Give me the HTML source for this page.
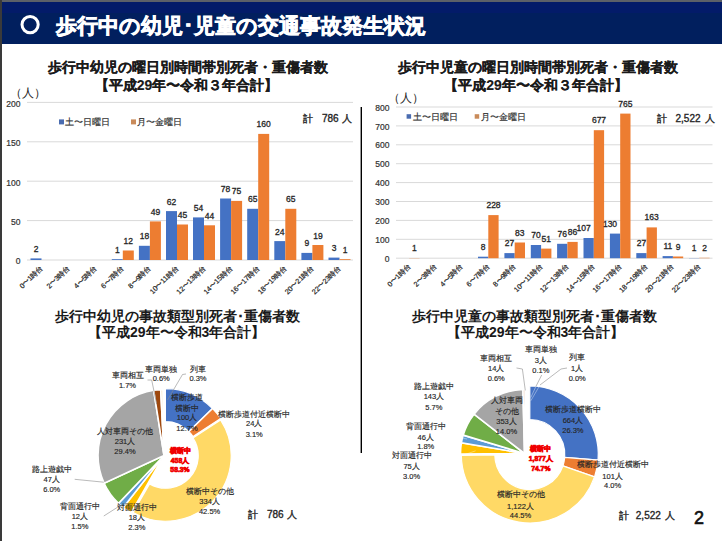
<!DOCTYPE html>
<html lang="ja"><head><meta charset="utf-8"><title>slide</title>
<style>
html,body{margin:0;padding:0;background:#fff;}
body{width:722px;height:541px;overflow:hidden;position:relative;font-family:"Liberation Sans",sans-serif;}
svg{position:absolute;left:0;top:0;font-family:"Liberation Sans",sans-serif;}
</style></head><body>
<svg width="722" height="541" viewBox="0 0 722 541">
<rect x="0" y="0" width="722" height="541" fill="#fff"/>
<rect x="0" y="0" width="722" height="2" fill="#5c6068"/>
<rect x="0" y="2" width="722" height="42" fill="#011f5e"/>
<rect x="0" y="2" width="722" height="11" fill="#031b69"/>
<circle cx="30.1" cy="24.6" r="8.1" fill="none" stroke="#fff" stroke-width="3"/>
<text x="55.5" y="32.5" font-size="21" font-weight="bold" fill="#fff" stroke="#fff" stroke-width="0.7">歩行中の幼児･児童の交通事故発生状況</text>
<line x1="27" y1="260.0" x2="353" y2="260.0" stroke="#d9d9d9" stroke-width="1"/>
<text x="20.5" y="264.3" font-size="8.5" text-anchor="end" font-weight="normal" fill="#333" stroke="#333" stroke-width="0.2">0</text>
<line x1="27" y1="220.6" x2="353" y2="220.6" stroke="#d9d9d9" stroke-width="1"/>
<text x="20.5" y="224.9" font-size="8.5" text-anchor="end" font-weight="normal" fill="#333" stroke="#333" stroke-width="0.2">50</text>
<line x1="27" y1="181.2" x2="353" y2="181.2" stroke="#d9d9d9" stroke-width="1"/>
<text x="20.5" y="185.5" font-size="8.5" text-anchor="end" font-weight="normal" fill="#333" stroke="#333" stroke-width="0.2">100</text>
<line x1="27" y1="141.8" x2="353" y2="141.8" stroke="#d9d9d9" stroke-width="1"/>
<text x="20.5" y="146.1" font-size="8.5" text-anchor="end" font-weight="normal" fill="#333" stroke="#333" stroke-width="0.2">150</text>
<line x1="27" y1="102.4" x2="353" y2="102.4" stroke="#d9d9d9" stroke-width="1"/>
<text x="20.5" y="106.7" font-size="8.5" text-anchor="end" font-weight="normal" fill="#333" stroke="#333" stroke-width="0.2">200</text>
<rect x="30.5" y="258.4" width="11.0" height="1.6" fill="#4472c4"/>
<text x="36.0" y="251.9" font-size="8.5" text-anchor="middle" font-weight="normal" fill="#262626" stroke="#262626" stroke-width="0.3">2</text>
<text transform="translate(43.0,268.6) rotate(-45)" font-size="7.2" text-anchor="end" fill="#262626" stroke="#262626" stroke-width="0.2">0〜1時台</text>
<text transform="translate(70.1,268.6) rotate(-45)" font-size="7.2" text-anchor="end" fill="#262626" stroke="#262626" stroke-width="0.2">2〜3時台</text>
<text transform="translate(97.2,268.6) rotate(-45)" font-size="7.2" text-anchor="end" fill="#262626" stroke="#262626" stroke-width="0.2">4〜5時台</text>
<rect x="111.8" y="259.2" width="11.0" height="0.8" fill="#4472c4"/>
<text x="117.3" y="252.7" font-size="8.5" text-anchor="middle" font-weight="normal" fill="#262626" stroke="#262626" stroke-width="0.3">1</text>
<rect x="122.8" y="250.5" width="11.0" height="9.5" fill="#ed7d31"/>
<text x="128.3" y="244.0" font-size="8.5" text-anchor="middle" font-weight="normal" fill="#262626" stroke="#262626" stroke-width="0.3">12</text>
<text transform="translate(124.3,268.6) rotate(-45)" font-size="7.2" text-anchor="end" fill="#262626" stroke="#262626" stroke-width="0.2">6〜7時台</text>
<rect x="138.9" y="245.8" width="11.0" height="14.2" fill="#4472c4"/>
<text x="144.4" y="239.3" font-size="8.5" text-anchor="middle" font-weight="normal" fill="#262626" stroke="#262626" stroke-width="0.3">18</text>
<rect x="149.9" y="221.4" width="11.0" height="38.6" fill="#ed7d31"/>
<text x="155.4" y="214.9" font-size="8.5" text-anchor="middle" font-weight="normal" fill="#262626" stroke="#262626" stroke-width="0.3">49</text>
<text transform="translate(151.4,268.6) rotate(-45)" font-size="7.2" text-anchor="end" fill="#262626" stroke="#262626" stroke-width="0.2">8〜9時台</text>
<rect x="166.0" y="211.1" width="11.0" height="48.9" fill="#4472c4"/>
<text x="171.5" y="204.6" font-size="8.5" text-anchor="middle" font-weight="normal" fill="#262626" stroke="#262626" stroke-width="0.3">62</text>
<rect x="177.0" y="224.5" width="11.0" height="35.5" fill="#ed7d31"/>
<text x="182.5" y="218.0" font-size="8.5" text-anchor="middle" font-weight="normal" fill="#262626" stroke="#262626" stroke-width="0.3">45</text>
<text transform="translate(178.5,268.6) rotate(-45)" font-size="7.2" text-anchor="end" fill="#262626" stroke="#262626" stroke-width="0.2">10〜11時台</text>
<rect x="193.0" y="217.4" width="11.0" height="42.6" fill="#4472c4"/>
<text x="198.5" y="210.9" font-size="8.5" text-anchor="middle" font-weight="normal" fill="#262626" stroke="#262626" stroke-width="0.3">54</text>
<rect x="204.0" y="225.3" width="11.0" height="34.7" fill="#ed7d31"/>
<text x="209.5" y="218.8" font-size="8.5" text-anchor="middle" font-weight="normal" fill="#262626" stroke="#262626" stroke-width="0.3">44</text>
<text transform="translate(205.5,268.6) rotate(-45)" font-size="7.2" text-anchor="end" fill="#262626" stroke="#262626" stroke-width="0.2">12〜13時台</text>
<rect x="220.1" y="198.5" width="11.0" height="61.5" fill="#4472c4"/>
<text x="225.6" y="192.0" font-size="8.5" text-anchor="middle" font-weight="normal" fill="#262626" stroke="#262626" stroke-width="0.3">78</text>
<rect x="231.1" y="200.9" width="11.0" height="59.1" fill="#ed7d31"/>
<text x="236.6" y="194.4" font-size="8.5" text-anchor="middle" font-weight="normal" fill="#262626" stroke="#262626" stroke-width="0.3">75</text>
<text transform="translate(232.6,268.6) rotate(-45)" font-size="7.2" text-anchor="end" fill="#262626" stroke="#262626" stroke-width="0.2">14〜15時台</text>
<rect x="247.2" y="208.8" width="11.0" height="51.2" fill="#4472c4"/>
<text x="252.7" y="202.3" font-size="8.5" text-anchor="middle" font-weight="normal" fill="#262626" stroke="#262626" stroke-width="0.3">65</text>
<rect x="258.2" y="133.9" width="11.0" height="126.1" fill="#ed7d31"/>
<text x="263.7" y="127.4" font-size="8.5" text-anchor="middle" font-weight="normal" fill="#262626" stroke="#262626" stroke-width="0.3">160</text>
<text transform="translate(259.7,268.6) rotate(-45)" font-size="7.2" text-anchor="end" fill="#262626" stroke="#262626" stroke-width="0.2">16〜17時台</text>
<rect x="274.3" y="241.1" width="11.0" height="18.9" fill="#4472c4"/>
<text x="279.8" y="234.6" font-size="8.5" text-anchor="middle" font-weight="normal" fill="#262626" stroke="#262626" stroke-width="0.3">24</text>
<rect x="285.3" y="208.8" width="11.0" height="51.2" fill="#ed7d31"/>
<text x="290.8" y="202.3" font-size="8.5" text-anchor="middle" font-weight="normal" fill="#262626" stroke="#262626" stroke-width="0.3">65</text>
<text transform="translate(286.8,268.6) rotate(-45)" font-size="7.2" text-anchor="end" fill="#262626" stroke="#262626" stroke-width="0.2">18〜19時台</text>
<rect x="301.4" y="252.9" width="11.0" height="7.1" fill="#4472c4"/>
<text x="306.9" y="246.4" font-size="8.5" text-anchor="middle" font-weight="normal" fill="#262626" stroke="#262626" stroke-width="0.3">9</text>
<rect x="312.4" y="245.0" width="11.0" height="15.0" fill="#ed7d31"/>
<text x="317.9" y="238.5" font-size="8.5" text-anchor="middle" font-weight="normal" fill="#262626" stroke="#262626" stroke-width="0.3">19</text>
<text transform="translate(313.9,268.6) rotate(-45)" font-size="7.2" text-anchor="end" fill="#262626" stroke="#262626" stroke-width="0.2">20〜21時台</text>
<rect x="328.5" y="257.6" width="11.0" height="2.4" fill="#4472c4"/>
<text x="334.0" y="251.1" font-size="8.5" text-anchor="middle" font-weight="normal" fill="#262626" stroke="#262626" stroke-width="0.3">3</text>
<rect x="339.5" y="259.2" width="11.0" height="0.8" fill="#ed7d31"/>
<text x="345.0" y="252.7" font-size="8.5" text-anchor="middle" font-weight="normal" fill="#262626" stroke="#262626" stroke-width="0.3">1</text>
<text transform="translate(341.0,268.6) rotate(-45)" font-size="7.2" text-anchor="end" fill="#262626" stroke="#262626" stroke-width="0.2">22〜23時台</text>
<line x1="396" y1="258.2" x2="712.5" y2="258.2" stroke="#d9d9d9" stroke-width="1"/>
<text x="389.5" y="261.8" font-size="8.5" text-anchor="end" font-weight="normal" fill="#333" stroke="#333" stroke-width="0.2">0</text>
<line x1="396" y1="239.3" x2="712.5" y2="239.3" stroke="#d9d9d9" stroke-width="1"/>
<text x="389.5" y="242.9" font-size="8.5" text-anchor="end" font-weight="normal" fill="#333" stroke="#333" stroke-width="0.2">100</text>
<line x1="396" y1="220.4" x2="712.5" y2="220.4" stroke="#d9d9d9" stroke-width="1"/>
<text x="389.5" y="224.0" font-size="8.5" text-anchor="end" font-weight="normal" fill="#333" stroke="#333" stroke-width="0.2">200</text>
<line x1="396" y1="201.5" x2="712.5" y2="201.5" stroke="#d9d9d9" stroke-width="1"/>
<text x="389.5" y="205.1" font-size="8.5" text-anchor="end" font-weight="normal" fill="#333" stroke="#333" stroke-width="0.2">300</text>
<line x1="396" y1="182.6" x2="712.5" y2="182.6" stroke="#d9d9d9" stroke-width="1"/>
<text x="389.5" y="186.2" font-size="8.5" text-anchor="end" font-weight="normal" fill="#333" stroke="#333" stroke-width="0.2">400</text>
<line x1="396" y1="163.7" x2="712.5" y2="163.7" stroke="#d9d9d9" stroke-width="1"/>
<text x="389.5" y="167.3" font-size="8.5" text-anchor="end" font-weight="normal" fill="#333" stroke="#333" stroke-width="0.2">500</text>
<line x1="396" y1="144.8" x2="712.5" y2="144.8" stroke="#d9d9d9" stroke-width="1"/>
<text x="389.5" y="148.4" font-size="8.5" text-anchor="end" font-weight="normal" fill="#333" stroke="#333" stroke-width="0.2">600</text>
<line x1="396" y1="125.9" x2="712.5" y2="125.9" stroke="#d9d9d9" stroke-width="1"/>
<text x="389.5" y="129.5" font-size="8.5" text-anchor="end" font-weight="normal" fill="#333" stroke="#333" stroke-width="0.2">700</text>
<line x1="396" y1="107.0" x2="712.5" y2="107.0" stroke="#d9d9d9" stroke-width="1"/>
<text x="389.5" y="110.6" font-size="8.5" text-anchor="end" font-weight="normal" fill="#333" stroke="#333" stroke-width="0.2">800</text>
<rect x="409.2" y="258.0" width="10.3" height="0.2" fill="#ed7d31"/>
<text x="414.3" y="251.0" font-size="8.5" text-anchor="middle" font-weight="normal" fill="#262626" stroke="#262626" stroke-width="0.3">1</text>
<text transform="translate(410.7,266.8) rotate(-45)" font-size="7.2" text-anchor="end" fill="#262626" stroke="#262626" stroke-width="0.2">0〜1時台</text>
<text transform="translate(437.1,266.8) rotate(-45)" font-size="7.2" text-anchor="end" fill="#262626" stroke="#262626" stroke-width="0.2">2〜3時台</text>
<text transform="translate(463.4,266.8) rotate(-45)" font-size="7.2" text-anchor="end" fill="#262626" stroke="#262626" stroke-width="0.2">4〜5時台</text>
<rect x="478.0" y="256.7" width="10.3" height="1.5" fill="#4472c4"/>
<text x="483.2" y="249.7" font-size="8.5" text-anchor="middle" font-weight="normal" fill="#262626" stroke="#262626" stroke-width="0.3">8</text>
<rect x="488.3" y="215.1" width="10.3" height="43.1" fill="#ed7d31"/>
<text x="493.5" y="208.1" font-size="8.5" text-anchor="middle" font-weight="normal" fill="#262626" stroke="#262626" stroke-width="0.3">228</text>
<text transform="translate(489.8,266.8) rotate(-45)" font-size="7.2" text-anchor="end" fill="#262626" stroke="#262626" stroke-width="0.2">6〜7時台</text>
<rect x="504.4" y="253.1" width="10.3" height="5.1" fill="#4472c4"/>
<text x="509.5" y="246.1" font-size="8.5" text-anchor="middle" font-weight="normal" fill="#262626" stroke="#262626" stroke-width="0.3">27</text>
<rect x="514.7" y="242.5" width="10.3" height="15.7" fill="#ed7d31"/>
<text x="519.8" y="235.5" font-size="8.5" text-anchor="middle" font-weight="normal" fill="#262626" stroke="#262626" stroke-width="0.3">83</text>
<text transform="translate(516.2,266.8) rotate(-45)" font-size="7.2" text-anchor="end" fill="#262626" stroke="#262626" stroke-width="0.2">8〜9時台</text>
<rect x="530.8" y="245.0" width="10.3" height="13.2" fill="#4472c4"/>
<text x="535.9" y="238.0" font-size="8.5" text-anchor="middle" font-weight="normal" fill="#262626" stroke="#262626" stroke-width="0.3">70</text>
<rect x="541.1" y="248.6" width="10.3" height="9.6" fill="#ed7d31"/>
<text x="546.2" y="241.6" font-size="8.5" text-anchor="middle" font-weight="normal" fill="#262626" stroke="#262626" stroke-width="0.3">51</text>
<text transform="translate(542.6,266.8) rotate(-45)" font-size="7.2" text-anchor="end" fill="#262626" stroke="#262626" stroke-width="0.2">10〜11時台</text>
<rect x="557.1" y="243.8" width="10.3" height="14.4" fill="#4472c4"/>
<text x="562.3" y="236.8" font-size="8.5" text-anchor="middle" font-weight="normal" fill="#262626" stroke="#262626" stroke-width="0.3">76</text>
<rect x="567.4" y="241.9" width="10.3" height="16.3" fill="#ed7d31"/>
<text x="572.6" y="234.9" font-size="8.5" text-anchor="middle" font-weight="normal" fill="#262626" stroke="#262626" stroke-width="0.3">86</text>
<text transform="translate(568.9,266.8) rotate(-45)" font-size="7.2" text-anchor="end" fill="#262626" stroke="#262626" stroke-width="0.2">12〜13時台</text>
<rect x="583.5" y="238.0" width="10.3" height="20.2" fill="#4472c4"/>
<text x="583.7" y="231.0" font-size="8.5" text-anchor="middle" font-weight="normal" fill="#262626" stroke="#262626" stroke-width="0.3">107</text>
<rect x="593.8" y="130.2" width="10.3" height="128.0" fill="#ed7d31"/>
<text x="599.0" y="123.2" font-size="8.5" text-anchor="middle" font-weight="normal" fill="#262626" stroke="#262626" stroke-width="0.3">677</text>
<text transform="translate(595.3,266.8) rotate(-45)" font-size="7.2" text-anchor="end" fill="#262626" stroke="#262626" stroke-width="0.2">14〜15時台</text>
<rect x="609.9" y="233.6" width="10.3" height="24.6" fill="#4472c4"/>
<text x="610.0" y="226.6" font-size="8.5" text-anchor="middle" font-weight="normal" fill="#262626" stroke="#262626" stroke-width="0.3">130</text>
<rect x="620.2" y="113.6" width="10.3" height="144.6" fill="#ed7d31"/>
<text x="625.3" y="106.6" font-size="8.5" text-anchor="middle" font-weight="normal" fill="#262626" stroke="#262626" stroke-width="0.3">765</text>
<text transform="translate(621.7,266.8) rotate(-45)" font-size="7.2" text-anchor="end" fill="#262626" stroke="#262626" stroke-width="0.2">16〜17時台</text>
<rect x="636.3" y="253.1" width="10.3" height="5.1" fill="#4472c4"/>
<text x="641.4" y="246.1" font-size="8.5" text-anchor="middle" font-weight="normal" fill="#262626" stroke="#262626" stroke-width="0.3">27</text>
<rect x="646.6" y="227.4" width="10.3" height="30.8" fill="#ed7d31"/>
<text x="651.7" y="220.4" font-size="8.5" text-anchor="middle" font-weight="normal" fill="#262626" stroke="#262626" stroke-width="0.3">163</text>
<text transform="translate(648.1,266.8) rotate(-45)" font-size="7.2" text-anchor="end" fill="#262626" stroke="#262626" stroke-width="0.2">18〜19時台</text>
<rect x="662.6" y="256.1" width="10.3" height="2.1" fill="#4472c4"/>
<text x="667.8" y="249.1" font-size="8.5" text-anchor="middle" font-weight="normal" fill="#262626" stroke="#262626" stroke-width="0.3">11</text>
<rect x="672.9" y="256.5" width="10.3" height="1.7" fill="#ed7d31"/>
<text x="678.1" y="249.5" font-size="8.5" text-anchor="middle" font-weight="normal" fill="#262626" stroke="#262626" stroke-width="0.3">9</text>
<text transform="translate(674.4,266.8) rotate(-45)" font-size="7.2" text-anchor="end" fill="#262626" stroke="#262626" stroke-width="0.2">20〜21時台</text>
<rect x="689.0" y="258.0" width="10.3" height="0.2" fill="#4472c4"/>
<text x="694.2" y="251.0" font-size="8.5" text-anchor="middle" font-weight="normal" fill="#262626" stroke="#262626" stroke-width="0.3">1</text>
<rect x="699.3" y="257.8" width="10.3" height="0.4" fill="#ed7d31"/>
<text x="704.5" y="250.8" font-size="8.5" text-anchor="middle" font-weight="normal" fill="#262626" stroke="#262626" stroke-width="0.3">2</text>
<text transform="translate(700.8,266.8) rotate(-45)" font-size="7.2" text-anchor="end" fill="#262626" stroke="#262626" stroke-width="0.2">22〜23時台</text>
<path d="M165.39,421.58 L165.39,388.58 A65.5,65.5 0 0 1 212.28,408.35 L188.66,431.39 A32.5,32.5 0 0 0 165.39,421.58 Z" fill="#4472c4" stroke="#fff" stroke-width="1.2"/>
<path d="M189.05,431.68 L212.67,408.64 A65.5,65.5 0 0 1 220.64,418.59 L193.00,436.62 A32.5,32.5 0 0 0 189.05,431.68 Z" fill="#ed7d31" stroke="#fff" stroke-width="1.2"/>
<path d="M192.95,437.93 L220.58,419.90 A65.5,65.5 0 0 1 133.10,512.48 L149.54,483.87 A32.5,32.5 0 0 0 192.95,437.93 Z" fill="#ffd966" stroke="#fff" stroke-width="1.2"/>
<path d="M164.00,455.50 L131.12,512.73 A66,66 0 0 1 123.22,507.40 Z" fill="#ffc000" stroke="#fff" stroke-width="1.6"/>
<path d="M164.00,455.50 L123.22,507.40 A66,66 0 0 1 118.52,503.33 Z" fill="#5b9bd5" stroke="#fff" stroke-width="1.6"/>
<path d="M164.00,455.50 L118.52,503.33 A66,66 0 0 1 104.11,483.23 Z" fill="#70ad47" stroke="#fff" stroke-width="1.6"/>
<path d="M164.00,455.50 L104.11,483.23 A66,66 0 0 1 153.68,390.31 Z" fill="#a5a5a5" stroke="#fff" stroke-width="1.6"/>
<path d="M164.00,455.50 L153.68,390.31 A66,66 0 0 1 160.68,389.58 Z" fill="#9e480e" stroke="#fff" stroke-width="1.6"/>
<path d="M164.00,455.50 L160.68,389.58 A66,66 0 0 1 163.17,389.51 Z" fill="#f3dfb8" stroke="#fff" stroke-width="1.6"/>
<path d="M164.00,455.50 L163.17,389.51 A66,66 0 0 1 164.41,389.50 Z" fill="#ffffff" stroke="#fff" stroke-width="1.6"/>
<path d="M529.80,419.50 L529.80,386.00 A68.5,68.5 0 0 1 598.07,460.09 L564.68,457.36 A35,35 0 0 0 529.80,419.50 Z" fill="#4472c4" stroke="#fff" stroke-width="1.2"/>
<path d="M564.68,457.36 L598.07,460.09 A68.5,68.5 0 0 1 594.54,476.89 L562.88,465.94 A35,35 0 0 0 564.68,457.36 Z" fill="#ed7d31" stroke="#fff" stroke-width="1.2"/>
<path d="M562.88,465.94 L594.54,476.89 A68.5,68.5 0 0 1 461.31,455.36 L494.80,454.94 A35,35 0 0 0 562.88,465.94 Z" fill="#ffd966" stroke="#fff" stroke-width="1.2"/>
<path d="M524.50,453.50 L460.50,454.17 A64,64 0 0 1 461.40,442.83 Z" fill="#ffc000" stroke="#fff" stroke-width="1.6"/>
<path d="M524.50,453.50 L461.40,442.83 A64,64 0 0 1 463.20,435.11 Z" fill="#5b9bd5" stroke="#fff" stroke-width="1.6"/>
<path d="M524.50,453.50 L463.20,435.11 A64,64 0 0 1 474.00,414.19 Z" fill="#70ad47" stroke="#fff" stroke-width="1.6"/>
<path d="M524.50,453.50 L474.00,414.19 A64,64 0 0 1 522.94,389.52 Z" fill="#a5a5a5" stroke="#fff" stroke-width="1.6"/>
<path d="M524.50,453.50 L522.94,389.52 A64,64 0 0 1 525.17,389.50 Z" fill="#e9c9b5" stroke="#fff" stroke-width="1.6"/>

<g stroke="#8c8c8c" stroke-width="0.6" fill="none">
<polyline points="147.5,380 151.7,380 156.6,404"/>
<polyline points="186,374 182.5,374.5 167.5,400"/>
<polyline points="74.7,479.3 103.8,482.2"/>
<polyline points="103.8,516 119.5,506"/>
<polyline points="516.5,368 522.4,369 525.3,390.4"/>
<polyline points="567,368 561,369 540,385"/>
<polyline points="541.7,375 535.8,386.7"/>
</g><g stroke="#ffffff" stroke-opacity="0.55" stroke-width="0.7" fill="none"><polyline points="535.8,386.7 530.8,397.5"/><polyline points="540,385 530.8,400.8"/>
<polyline points="458.2,396.5 463,396.5 475.6,415"/>
<polyline points="450.4,435.3 467,439"/>
<polyline points="435,465.3 475.6,450.8"/>
</g>
<text x="187.5" y="72.0" font-size="14" text-anchor="middle" font-weight="bold" fill="#1a1a1a" stroke="#1a1a1a" stroke-width="0.15">歩行中幼児の曜日別時間帯別死者・重傷者数</text>
<text x="186.5" y="89.5" font-size="14" text-anchor="middle" font-weight="bold" fill="#1a1a1a" stroke="#1a1a1a" stroke-width="0.15">【平成29年〜令和３年合計】</text>
<text x="537.5" y="72.0" font-size="14" text-anchor="middle" font-weight="bold" fill="#1a1a1a" stroke="#1a1a1a" stroke-width="0.15">歩行中児童の曜日別時間帯別死者・重傷者数</text>
<text x="536.0" y="89.5" font-size="14" text-anchor="middle" font-weight="bold" fill="#1a1a1a" stroke="#1a1a1a" stroke-width="0.15">【平成29年〜令和３年合計】</text>
<text x="28.0" y="96.6" font-size="11.5" text-anchor="middle" font-weight="normal" fill="#262626" >（人）</text>
<text x="406.2" y="102.2" font-size="11.5" text-anchor="middle" font-weight="normal" fill="#262626" >（人）</text>
<rect x="59" y="119.4" width="5" height="5" fill="#4a6cb0"/>
<text x="65.3" y="125.2" font-size="9" text-anchor="start" font-weight="normal" fill="#333" stroke="#333" stroke-width="0.2">土〜日曜日</text>
<rect x="131" y="119.4" width="5" height="5" fill="#c98b5a"/>
<text x="137.3" y="125.2" font-size="9" text-anchor="start" font-weight="normal" fill="#333" stroke="#333" stroke-width="0.2">月〜金曜日</text>
<rect x="406.6" y="114.2" width="4.5" height="4.5" fill="#4a6cb0"/>
<text x="412.9" y="119.8" font-size="9" text-anchor="start" font-weight="normal" fill="#333" stroke="#333" stroke-width="0.2">土〜日曜日</text>
<rect x="474.7" y="114.2" width="4.5" height="4.5" fill="#c98b5a"/>
<text x="481.0" y="119.8" font-size="9" text-anchor="start" font-weight="normal" fill="#333" stroke="#333" stroke-width="0.2">月〜金曜日</text>
<text x="302.5" y="122.0" font-size="10" text-anchor="start" font-weight="normal" fill="#262626" stroke="#262626" stroke-width="0.35">計</text>
<text x="322.0" y="122.0" font-size="10" text-anchor="start" font-weight="normal" fill="#262626" stroke="#262626" stroke-width="0.35">786</text>
<text x="341.5" y="122.0" font-size="10" text-anchor="start" font-weight="normal" fill="#262626" stroke="#262626" stroke-width="0.35">人</text>
<text x="656.5" y="122.0" font-size="10" text-anchor="start" font-weight="normal" fill="#262626" stroke="#262626" stroke-width="0.35">計</text>
<text x="675.5" y="122.0" font-size="10" text-anchor="start" font-weight="normal" fill="#262626" stroke="#262626" stroke-width="0.35">2,522</text>
<text x="704.5" y="122.0" font-size="10" text-anchor="start" font-weight="normal" fill="#262626" stroke="#262626" stroke-width="0.35">人</text>
<text x="177.4" y="321.0" font-size="14" text-anchor="middle" font-weight="bold" fill="#1a1a1a" stroke="#1a1a1a" stroke-width="0">歩行中幼児の事故類型別死者･重傷者数</text>
<text x="176.7" y="337.0" font-size="14" text-anchor="middle" font-weight="bold" fill="#1a1a1a" stroke="#1a1a1a" stroke-width="0">【平成29年〜令和3年合計】</text>
<text x="534.7" y="321.0" font-size="14" text-anchor="middle" font-weight="bold" fill="#1a1a1a" stroke="#1a1a1a" stroke-width="0">歩行中児童の事故類型別死者･重傷者数</text>
<text x="535.7" y="337.0" font-size="14" text-anchor="middle" font-weight="bold" fill="#1a1a1a" stroke="#1a1a1a" stroke-width="0">【平成29年〜令和3年合計】</text>
<text x="127.5" y="377.7" font-size="7.5" text-anchor="middle" font-weight="normal" fill="#262626" stroke="#262626" stroke-width="0.15">車両相互</text>
<text x="127.5" y="388.2" font-size="7.5" text-anchor="middle" font-weight="normal" fill="#262626" stroke="#262626" stroke-width="0.15">1.7%</text>
<text x="161.2" y="371.7" font-size="7.5" text-anchor="middle" font-weight="normal" fill="#262626" stroke="#262626" stroke-width="0.15">車両単独</text>
<text x="161.2" y="381.0" font-size="7.5" text-anchor="middle" font-weight="normal" fill="#262626" stroke="#262626" stroke-width="0.15">0.6%</text>
<text x="198.0" y="371.7" font-size="7.5" text-anchor="middle" font-weight="normal" fill="#262626" stroke="#262626" stroke-width="0.15">列車</text>
<text x="198.0" y="381.0" font-size="7.5" text-anchor="middle" font-weight="normal" fill="#262626" stroke="#262626" stroke-width="0.15">0.3%</text>
<text x="187.0" y="399.7" font-size="7.5" text-anchor="middle" font-weight="normal" fill="#262626" stroke="#262626" stroke-width="0.15">横断歩道</text>
<text x="187.0" y="411.0" font-size="7.5" text-anchor="middle" font-weight="normal" fill="#262626" stroke="#262626" stroke-width="0.15">横断中</text>
<text x="187.0" y="420.2" font-size="7.5" text-anchor="middle" font-weight="normal" fill="#262626" stroke="#262626" stroke-width="0.15">100人</text>
<text x="187.0" y="431.2" font-size="7.5" text-anchor="middle" font-weight="normal" fill="#262626" stroke="#262626" stroke-width="0.15">12.7%</text>
<text x="254.2" y="416.8" font-size="7.5" text-anchor="middle" font-weight="normal" fill="#262626" stroke="#262626" stroke-width="0.15">横断歩道付近横断中</text>
<text x="254.2" y="426.2" font-size="7.5" text-anchor="middle" font-weight="normal" fill="#262626" stroke="#262626" stroke-width="0.15">24人</text>
<text x="254.2" y="437.2" font-size="7.5" text-anchor="middle" font-weight="normal" fill="#262626" stroke="#262626" stroke-width="0.15">3.1%</text>
<text x="125.0" y="433.7" font-size="7.5" text-anchor="middle" font-weight="normal" fill="#262626" stroke="#262626" stroke-width="0.15">人対車両その他</text>
<text x="125.0" y="444.2" font-size="7.5" text-anchor="middle" font-weight="normal" fill="#262626" stroke="#262626" stroke-width="0.15">231人</text>
<text x="125.0" y="454.2" font-size="7.5" text-anchor="middle" font-weight="normal" fill="#262626" stroke="#262626" stroke-width="0.15">29.4%</text>
<text x="180.0" y="453.3" font-size="6.8" text-anchor="middle" font-weight="bold" fill="#f00000" stroke="#f00000" stroke-width="0.7">横断中</text>
<text x="180.0" y="463.0" font-size="6.8" text-anchor="middle" font-weight="bold" fill="#f00000" stroke="#f00000" stroke-width="0.7">458人</text>
<text x="180.0" y="471.7" font-size="6.8" text-anchor="middle" font-weight="bold" fill="#f00000" stroke="#f00000" stroke-width="0.7">58.3%</text>
<text x="51.7" y="471.8" font-size="7.5" text-anchor="middle" font-weight="normal" fill="#262626" stroke="#262626" stroke-width="0.15">路上遊戯中</text>
<text x="51.7" y="482.2" font-size="7.5" text-anchor="middle" font-weight="normal" fill="#262626" stroke="#262626" stroke-width="0.15">47人</text>
<text x="51.7" y="491.8" font-size="7.5" text-anchor="middle" font-weight="normal" fill="#262626" stroke="#262626" stroke-width="0.15">6.0%</text>
<text x="209.6" y="494.2" font-size="7.5" text-anchor="middle" font-weight="normal" fill="#262626" stroke="#262626" stroke-width="0.15">横断中その他</text>
<text x="209.6" y="504.2" font-size="7.5" text-anchor="middle" font-weight="normal" fill="#262626" stroke="#262626" stroke-width="0.15">334人</text>
<text x="209.6" y="513.6" font-size="7.5" text-anchor="middle" font-weight="normal" fill="#262626" stroke="#262626" stroke-width="0.15">42.5%</text>
<text x="79.8" y="508.7" font-size="7.5" text-anchor="middle" font-weight="normal" fill="#262626" stroke="#262626" stroke-width="0.15">背面通行中</text>
<text x="79.8" y="519.2" font-size="7.5" text-anchor="middle" font-weight="normal" fill="#262626" stroke="#262626" stroke-width="0.15">12人</text>
<text x="79.8" y="529.2" font-size="7.5" text-anchor="middle" font-weight="normal" fill="#262626" stroke="#262626" stroke-width="0.15">1.5%</text>
<text x="136.8" y="509.9" font-size="7.5" text-anchor="middle" font-weight="normal" fill="#262626" stroke="#262626" stroke-width="0.15">対面通行中</text>
<text x="136.8" y="520.2" font-size="7.5" text-anchor="middle" font-weight="normal" fill="#262626" stroke="#262626" stroke-width="0.15">18人</text>
<text x="136.8" y="530.2" font-size="7.5" text-anchor="middle" font-weight="normal" fill="#262626" stroke="#262626" stroke-width="0.15">2.3%</text>
<text x="248.0" y="517.5" font-size="10" text-anchor="start" font-weight="normal" fill="#262626" stroke="#262626" stroke-width="0.35">計</text>
<text x="267.0" y="517.5" font-size="10" text-anchor="start" font-weight="normal" fill="#262626" stroke="#262626" stroke-width="0.35">786</text>
<text x="287.0" y="517.5" font-size="10" text-anchor="start" font-weight="normal" fill="#262626" stroke="#262626" stroke-width="0.35">人</text>
<text x="496.2" y="360.5" font-size="7.5" text-anchor="middle" font-weight="normal" fill="#262626" stroke="#262626" stroke-width="0.15">車両相互</text>
<text x="496.2" y="371.2" font-size="7.5" text-anchor="middle" font-weight="normal" fill="#262626" stroke="#262626" stroke-width="0.15">14人</text>
<text x="496.2" y="380.8" font-size="7.5" text-anchor="middle" font-weight="normal" fill="#262626" stroke="#262626" stroke-width="0.15">0.6%</text>
<text x="540.8" y="351.8" font-size="7.5" text-anchor="middle" font-weight="normal" fill="#262626" stroke="#262626" stroke-width="0.15">車両単独</text>
<text x="540.8" y="363.2" font-size="7.5" text-anchor="middle" font-weight="normal" fill="#262626" stroke="#262626" stroke-width="0.15">3人</text>
<text x="540.8" y="373.2" font-size="7.5" text-anchor="middle" font-weight="normal" fill="#262626" stroke="#262626" stroke-width="0.15">0.1%</text>
<text x="577.2" y="360.2" font-size="7.5" text-anchor="middle" font-weight="normal" fill="#262626" stroke="#262626" stroke-width="0.15">列車</text>
<text x="577.2" y="371.2" font-size="7.5" text-anchor="middle" font-weight="normal" fill="#262626" stroke="#262626" stroke-width="0.15">1人</text>
<text x="577.2" y="380.8" font-size="7.5" text-anchor="middle" font-weight="normal" fill="#262626" stroke="#262626" stroke-width="0.15">0.0%</text>
<text x="433.9" y="388.9" font-size="7.5" text-anchor="middle" font-weight="normal" fill="#262626" stroke="#262626" stroke-width="0.15">路上遊戯中</text>
<text x="433.9" y="399.2" font-size="7.5" text-anchor="middle" font-weight="normal" fill="#262626" stroke="#262626" stroke-width="0.15">143人</text>
<text x="433.9" y="410.2" font-size="7.5" text-anchor="middle" font-weight="normal" fill="#262626" stroke="#262626" stroke-width="0.15">5.7%</text>
<text x="425.7" y="428.8" font-size="7.5" text-anchor="middle" font-weight="normal" fill="#262626" stroke="#262626" stroke-width="0.15">背面通行中</text>
<text x="425.7" y="440.2" font-size="7.5" text-anchor="middle" font-weight="normal" fill="#262626" stroke="#262626" stroke-width="0.15">46人</text>
<text x="425.7" y="449.2" font-size="7.5" text-anchor="middle" font-weight="normal" fill="#262626" stroke="#262626" stroke-width="0.15">1.8%</text>
<text x="411.6" y="457.8" font-size="7.5" text-anchor="middle" font-weight="normal" fill="#262626" stroke="#262626" stroke-width="0.15">対面通行中</text>
<text x="411.6" y="469.2" font-size="7.5" text-anchor="middle" font-weight="normal" fill="#262626" stroke="#262626" stroke-width="0.15">75人</text>
<text x="411.6" y="479.2" font-size="7.5" text-anchor="middle" font-weight="normal" fill="#262626" stroke="#262626" stroke-width="0.15">3.0%</text>
<text x="506.5" y="403.0" font-size="7.5" text-anchor="middle" font-weight="normal" fill="#262626" stroke="#262626" stroke-width="0.15">人対車両</text>
<text x="506.5" y="414.2" font-size="7.5" text-anchor="middle" font-weight="normal" fill="#262626" stroke="#262626" stroke-width="0.15">その他</text>
<text x="506.5" y="424.2" font-size="7.5" text-anchor="middle" font-weight="normal" fill="#262626" stroke="#262626" stroke-width="0.15">353人</text>
<text x="506.5" y="434.2" font-size="7.5" text-anchor="middle" font-weight="normal" fill="#262626" stroke="#262626" stroke-width="0.15">14.0%</text>
<text x="572.9" y="411.8" font-size="7.5" text-anchor="middle" font-weight="normal" fill="#262626" stroke="#262626" stroke-width="0.15">横断歩道横断中</text>
<text x="572.9" y="423.2" font-size="7.5" text-anchor="middle" font-weight="normal" fill="#262626" stroke="#262626" stroke-width="0.15">664人</text>
<text x="572.9" y="433.2" font-size="7.5" text-anchor="middle" font-weight="normal" fill="#262626" stroke="#262626" stroke-width="0.15">26.3%</text>
<text x="540.8" y="451.3" font-size="6.8" text-anchor="middle" font-weight="bold" fill="#f00000" stroke="#f00000" stroke-width="0.7">横断中</text>
<text x="540.8" y="461.0" font-size="6.8" text-anchor="middle" font-weight="bold" fill="#f00000" stroke="#f00000" stroke-width="0.7">1,877人</text>
<text x="540.8" y="470.5" font-size="6.8" text-anchor="middle" font-weight="bold" fill="#f00000" stroke="#f00000" stroke-width="0.7">74.7%</text>
<text x="612.6" y="467.1" font-size="7.5" text-anchor="middle" font-weight="normal" fill="#262626" stroke="#262626" stroke-width="0.15">横断歩道付近横断中</text>
<text x="612.6" y="478.7" font-size="7.5" text-anchor="middle" font-weight="normal" fill="#262626" stroke="#262626" stroke-width="0.15">101人</text>
<text x="612.6" y="488.2" font-size="7.5" text-anchor="middle" font-weight="normal" fill="#262626" stroke="#262626" stroke-width="0.15">4.0%</text>
<text x="520.5" y="497.2" font-size="7.5" text-anchor="middle" font-weight="normal" fill="#262626" stroke="#262626" stroke-width="0.15">横断中その他</text>
<text x="520.5" y="509.2" font-size="7.5" text-anchor="middle" font-weight="normal" fill="#262626" stroke="#262626" stroke-width="0.15">1,122人</text>
<text x="520.5" y="518.2" font-size="7.5" text-anchor="middle" font-weight="normal" fill="#262626" stroke="#262626" stroke-width="0.15">44.5%</text>
<text x="618.5" y="519.3" font-size="10" text-anchor="start" font-weight="normal" fill="#262626" stroke="#262626" stroke-width="0.35">計</text>
<text x="635.8" y="519.3" font-size="10" text-anchor="start" font-weight="normal" fill="#262626" stroke="#262626" stroke-width="0.35">2,522</text>
<text x="664.5" y="519.3" font-size="10" text-anchor="start" font-weight="normal" fill="#262626" stroke="#262626" stroke-width="0.35">人</text>
<text x="699.0" y="524.0" font-size="18" text-anchor="middle" font-weight="normal" fill="#111" stroke="#111" stroke-width="0.6">2</text>
<rect x="360.6" y="107" width="1.4" height="346" fill="#000"/>
<rect x="0" y="0" width="2" height="541" fill="#3a3a3a"/>
</svg>
</body></html>
